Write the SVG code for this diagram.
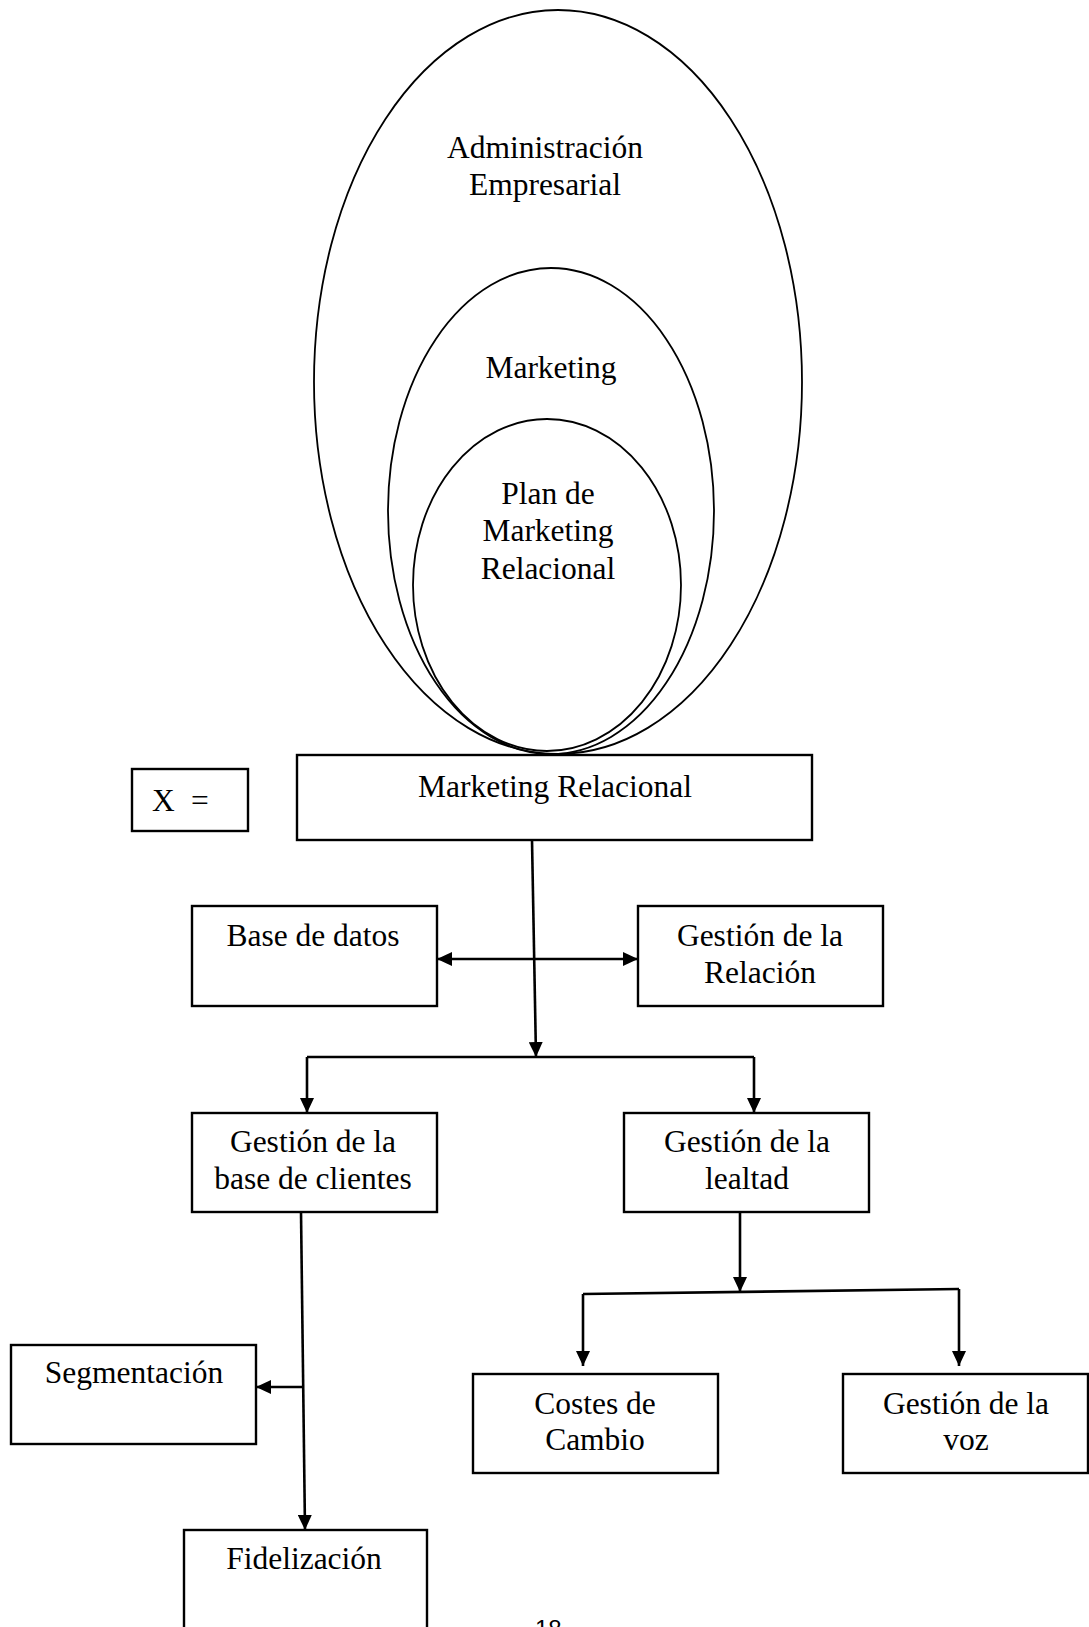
<svg xmlns="http://www.w3.org/2000/svg" width="1089" height="1627" viewBox="0 0 1089 1627">
  <style>
    .box { fill: #ffffff; stroke: #000000; stroke-width: 2.4; }
    .oval { fill: none; stroke: #000000; stroke-width: 1.8; }
    .lbl { font-family: "Liberation Serif", "Times New Roman", serif; font-size: 31.5px; fill: #000000; text-anchor: middle; }
    .wire { fill: none; stroke: #000000; stroke-width: 2.6; }
    .arrow { marker-end: url(#head); }
    .both { marker-start: url(#headStart); marker-end: url(#head); }
  </style>
  <defs>
    <marker id="head" viewBox="0 0 15 14" refX="15" refY="7" markerWidth="15" markerHeight="14" markerUnits="userSpaceOnUse" orient="auto">
      <path d="M0,0 L15,7 L0,14 Z" fill="#000000"/>
    </marker>
    <marker id="headStart" viewBox="0 0 15 14" refX="15" refY="7" markerWidth="15" markerHeight="14" markerUnits="userSpaceOnUse" orient="auto-start-reverse">
      <path d="M0,0 L15,7 L0,14 Z" fill="#000000"/>
    </marker>
  </defs>
  <rect width="1089" height="1627" fill="#ffffff"/>

  <!-- nested scopes -->
  <g id="administracion">
    <ellipse class="oval" cx="558" cy="382" rx="244" ry="372"/>
    <text class="lbl" x="545" y="158">Administración</text>
    <text class="lbl" x="545" y="195">Empresarial</text>
  </g>
  <g id="marketing">
    <ellipse class="oval" cx="551" cy="511" rx="163" ry="243"/>
    <text class="lbl" x="551" y="378">Marketing</text>
  </g>
  <g id="plan">
    <ellipse class="oval" cx="547" cy="585" rx="134" ry="166"/>
    <text class="lbl" x="548" y="504">Plan de</text>
    <text class="lbl" x="548" y="541">Marketing</text>
    <text class="lbl" x="548" y="579">Relacional</text>
  </g>

  <!-- connectors -->
  <g id="connectors">
    <path class="wire arrow" d="M532,840 L536,1057"/>
    <path class="wire both" d="M437,959 L638,959"/>
    <path class="wire" d="M307,1057 L754,1057"/>
    <path class="wire arrow" d="M307,1057 L307,1113"/>
    <path class="wire arrow" d="M754,1057 L754,1113"/>
    <path class="wire arrow" d="M301,1212 L305,1530"/>
    <path class="wire arrow" d="M303,1387 L256,1387"/>
    <path class="wire arrow" d="M740,1212 L740,1292"/>
    <path class="wire" d="M583,1294 L959,1289"/>
    <path class="wire arrow" d="M583,1294 L583,1366"/>
    <path class="wire arrow" d="M959,1289 L959,1366"/>
  </g>

  <!-- nodes -->
  <g id="x-equals">
    <rect class="box" x="132" y="769" width="116" height="62"/>
    <text class="lbl" x="152" y="811" style="text-anchor:start">X</text>
    <text class="lbl" x="191" y="811" style="text-anchor:start">=</text>
  </g>
  <g id="marketing-relacional">
    <rect class="box" x="297" y="755" width="515" height="85"/>
    <text class="lbl" x="555" y="797">Marketing Relacional</text>
  </g>
  <g id="base-datos">
    <rect class="box" x="192" y="906" width="245" height="100"/>
    <text class="lbl" x="313" y="946">Base de datos</text>
  </g>
  <g id="gestion-relacion">
    <rect class="box" x="638" y="906" width="245" height="100"/>
    <text class="lbl" x="760" y="946">Gestión de la</text>
    <text class="lbl" x="760" y="983">Relación</text>
  </g>
  <g id="gestion-base-clientes">
    <rect class="box" x="192" y="1113" width="245" height="99"/>
    <text class="lbl" x="313" y="1152">Gestión de la</text>
    <text class="lbl" x="313" y="1189">base de clientes</text>
  </g>
  <g id="gestion-lealtad">
    <rect class="box" x="624" y="1113" width="245" height="99"/>
    <text class="lbl" x="747" y="1152">Gestión de la</text>
    <text class="lbl" x="747" y="1189">lealtad</text>
  </g>
  <g id="segmentacion">
    <rect class="box" x="11" y="1345" width="245" height="99"/>
    <text class="lbl" x="134" y="1383">Segmentación</text>
  </g>
  <g id="costes-cambio">
    <rect class="box" x="473" y="1374" width="245" height="99"/>
    <text class="lbl" x="595" y="1414">Costes de</text>
    <text class="lbl" x="595" y="1450">Cambio</text>
  </g>
  <g id="gestion-voz">
    <rect class="box" x="843" y="1374" width="245" height="99"/>
    <text class="lbl" x="966" y="1414">Gestión de la</text>
    <text class="lbl" x="966" y="1450">voz</text>
  </g>
  <g id="fidelizacion">
    <rect class="box" x="184" y="1530" width="243" height="120"/>
    <text class="lbl" x="304" y="1569">Fidelización</text>
  </g>

  <!-- page number -->
  <text x="535" y="1637" style="font-family:'Liberation Sans', Arial, sans-serif; font-size:24px; fill:#000000">18</text>
</svg>
